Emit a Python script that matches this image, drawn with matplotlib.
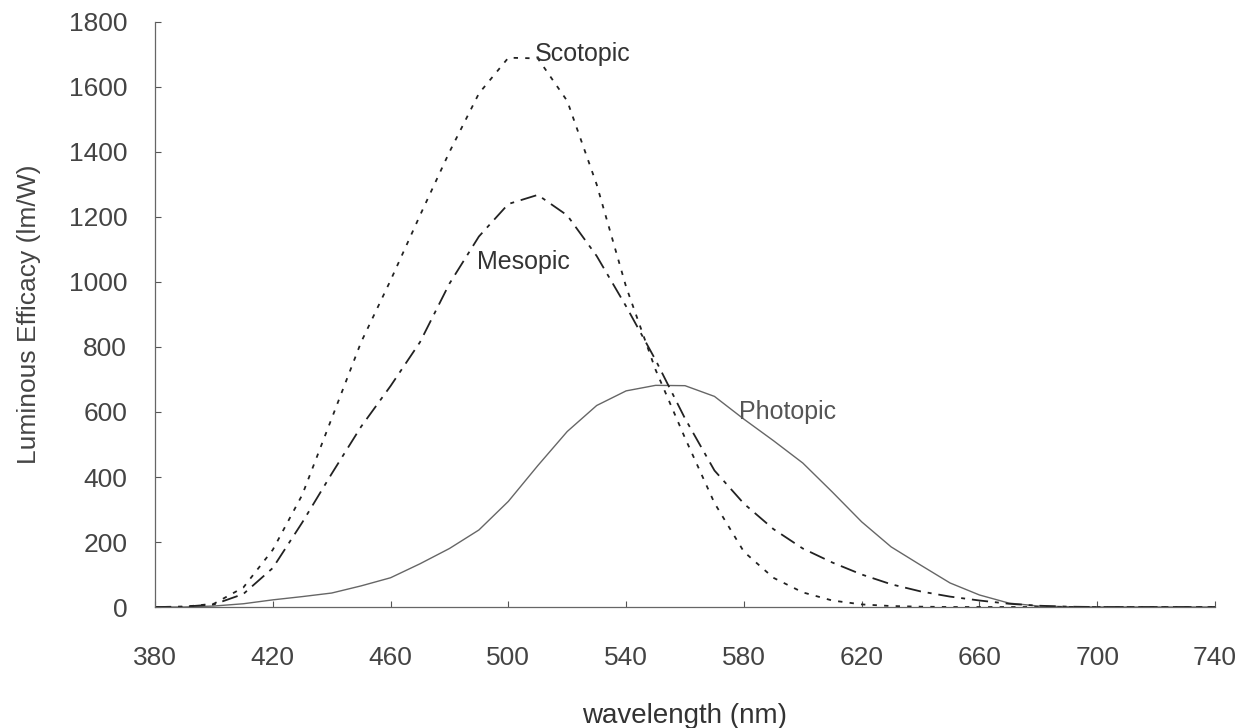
import matplotlib
matplotlib.use("Agg")
import matplotlib.pyplot as plt

plt.rcParams['font.family'] = ['Liberation Sans', 'DejaVu Sans']

# wavelengths (nm) and luminous efficacy (lm/W)
wavelength = [380, 390, 400, 410, 420, 430, 440, 450, 460, 470, 480, 490, 500,
              510, 520, 530, 540, 550, 560, 570, 580, 590, 600, 610, 620, 630,
              640, 650, 660, 670, 680, 690, 700, 710, 720, 730, 740]

photopic = [0, 0, 3, 10, 22, 32, 43, 65, 90, 133, 180, 237, 325,
            435, 540, 620, 665, 682, 681, 648, 578, 512, 443, 354, 262, 185,
            129, 74, 37, 12, 3, 1, 0, 0, 0, 0, 0]

scotopic = [0, 1, 10, 60, 176, 345, 580, 815, 1005, 1205, 1400, 1580, 1690,
            1688, 1557, 1300, 985, 730, 520, 320, 170, 90, 45, 20, 8, 3,
            1, 0, 0, 0, 0, 0, 0, 0, 0, 0, 0]

mesopic = [0, 1, 8, 40, 120, 260, 410, 555, 680, 815, 995, 1140, 1240,
           1268, 1205, 1080, 925, 760, 580, 420, 318, 240, 180, 137, 100, 70,
           48, 32, 20, 10, 4, 1, 0, 0, 0, 0, 0]

xticks = [380, 420, 460, 500, 540, 580, 620, 660, 700, 740]
yticks = [0, 200, 400, 600, 800, 1000, 1200, 1400, 1600, 1800]

fig = plt.figure(figsize=(12.49, 7.28), dpi=100)
ax = fig.add_axes([0.1241, 0.1662, 0.8487, 0.8036])

ax.plot(wavelength, photopic, color='#666666', lw=1.0)
ax.plot(wavelength, scotopic, color='#222222', lw=1.3, ls=(0, (2.4, 4.0)))
ax.plot(wavelength, mesopic, color='#222222', lw=1.3, ls=(0, (9, 3.8, 2.2, 3.8)))

ax.text(509, 1702, 'Scotopic', fontsize=18, color='#333333', va='center', ha='left')
ax.text(489.5, 1063, 'Mesopic', fontsize=18, color='#333333', va='center', ha='left')
ax.text(578.5, 601, 'Photopic', fontsize=18, color='#555555', va='center', ha='left')

ax.set_xlim(380, 740)
ax.set_ylim(0, 1800)
ax.set_xticks(xticks)
ax.set_yticks(yticks)
ax.tick_params(direction='in', length=4, width=0.8, colors='#555555',
               labelsize=19, labelcolor='#444444')
ax.tick_params(axis='x', pad=28)
ax.tick_params(axis='y', pad=20)

for s in ['top', 'right']:
    ax.spines[s].set_visible(False)
for s in ['left', 'bottom']:
    ax.spines[s].set_color('#666666')
    ax.spines[s].set_linewidth(0.9)

ax.set_xlabel('wavelength (nm)', fontsize=20, color='#333333', labelpad=24)
ax.set_ylabel('Luminous Efficacy (lm/W)', fontsize=19, color='#444444', labelpad=20)

fig.savefig('out.png', dpi=100)
